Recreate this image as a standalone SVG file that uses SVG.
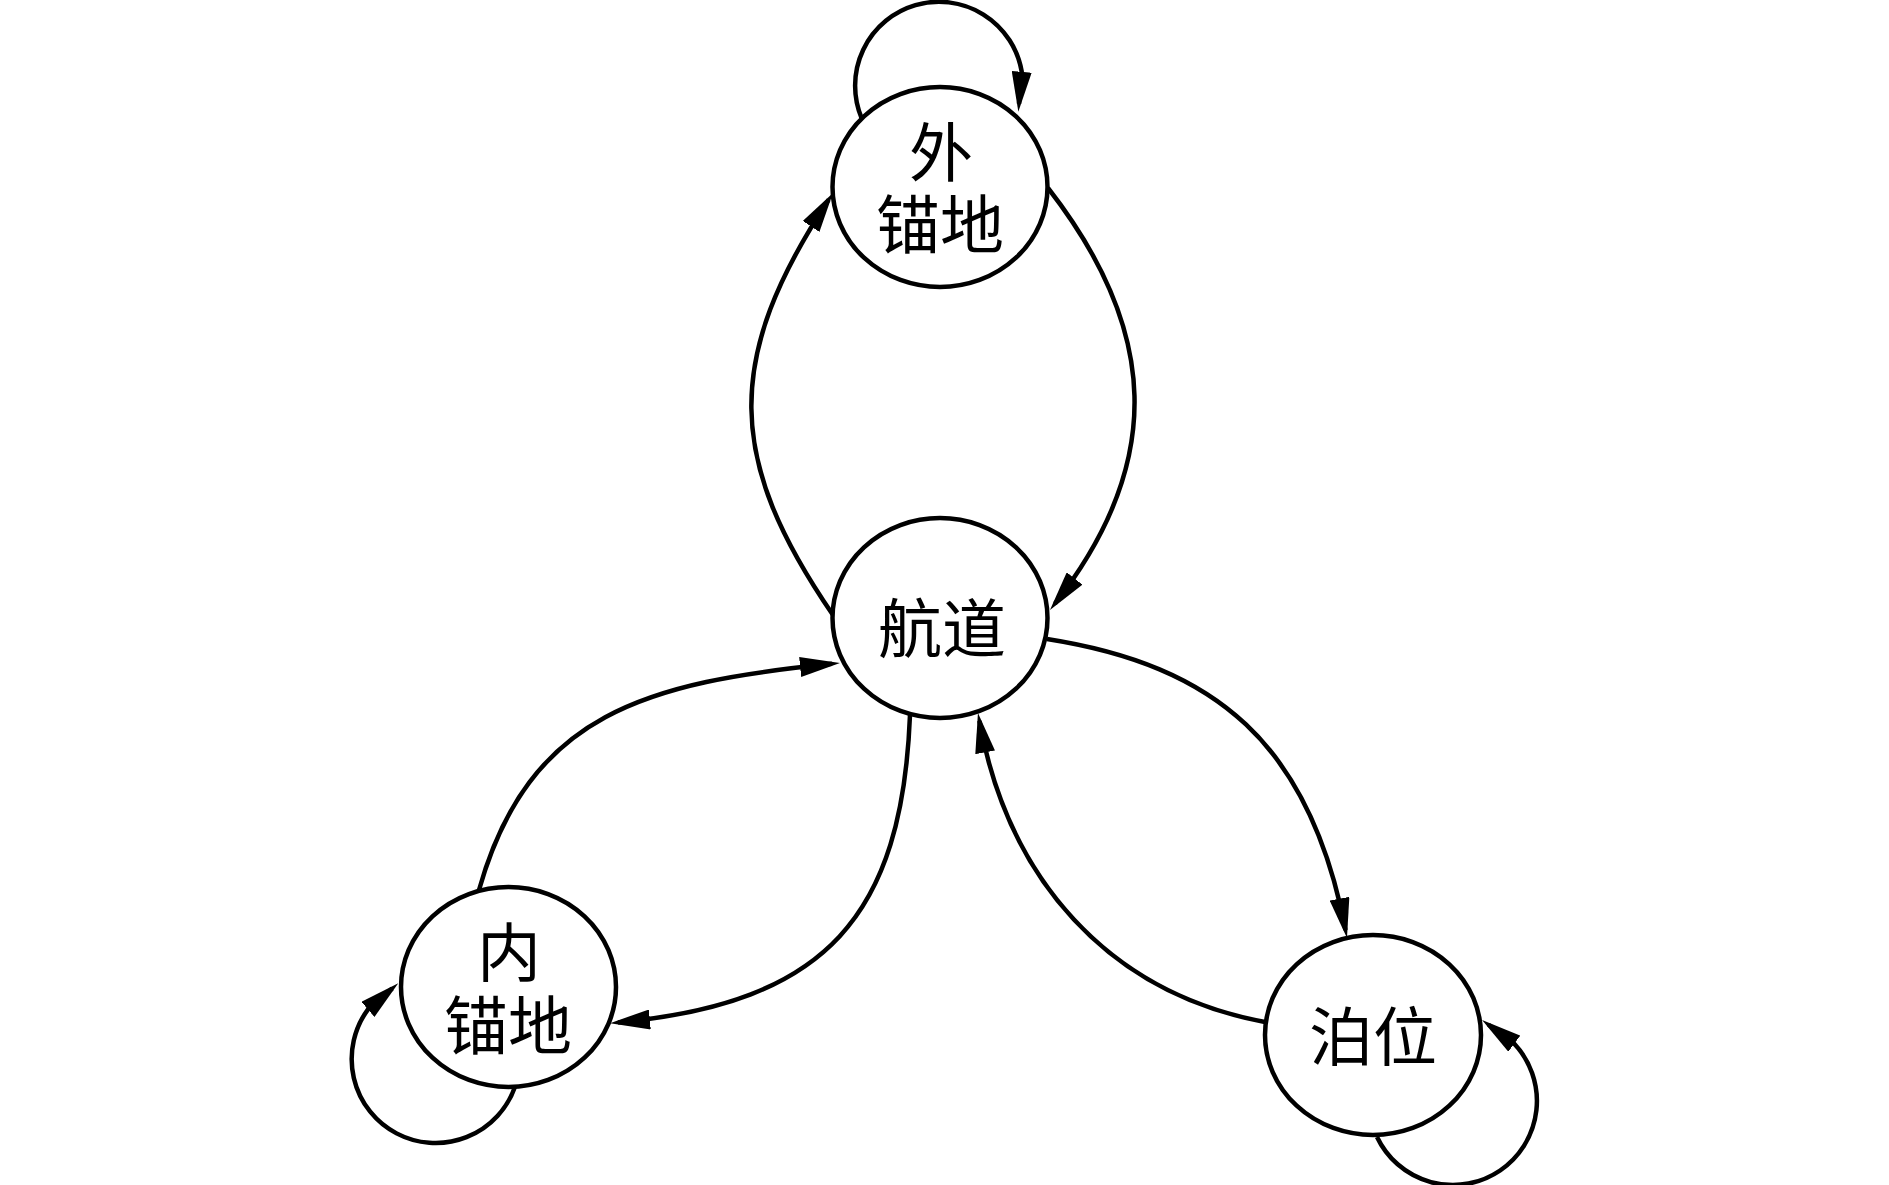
<svg xmlns="http://www.w3.org/2000/svg" width="1889" height="1185" viewBox="0 0 1889 1185">
<defs>
<style>
.node ellipse{fill:#fff;stroke:#000;stroke-width:4.5}
.node text{font-family:"Liberation Serif","Noto Sans CJK SC",serif;font-size:64px;fill:#000;text-anchor:middle}
#edges path{fill:none;stroke:#000;stroke-width:4.5;marker-end:url(#arr)}
</style>
<marker id="arr" markerUnits="userSpaceOnUse" viewBox="0 0 40 20" markerWidth="40" markerHeight="20" refX="32" refY="10" orient="auto">
<path d="M0,0 L40,10 L0,20 z" fill="#000"/>
</marker>
</defs>
<rect width="1889" height="1185" fill="#fff"/>
<g id="edges">
<path id="e-hd-wmd" d="M833,615 C725.5,458.4 724.3,358.5 828.6,199.7"/>
<path id="e-wmd-hd" d="M1048,188 C1158.5,330 1165.8,461.9 1054.9,603.7"/>
<path id="e-hd-bw" d="M1047,639 C1215,665.4 1310,743.5 1345.5,930.1"/>
<path id="e-bw-hd" d="M1265,1022 C1107.7,992.7 1008,878.3 979.4,720.9"/>
<path id="e-hd-nmd" d="M910,715 C902,915 827.4,1003 618,1022.4"/>
<path id="e-nmd-hd" d="M479,890 C529,712.4 648,682.3 832,663.8"/>
<path id="loop-wmd" d="M861.7,118.3 A83.9,83.9 0 1 1 1021.7,71.5 L1019,103.7"/>
<path id="loop-nmd" d="M515,1086.7 A84,84 0 1 1 368,1009.3 L392.2,988.5"/>
<path id="loop-bw" d="M1377,1137 A84,84 0 1 0 1514.3,1043.7 L1488.5,1024.7"/>
</g>
<g id="node-wmd" class="node">
<ellipse cx="940" cy="187" rx="107.5" ry="100"/>
<text><tspan x="941" y="176">外</tspan><tspan x="940" y="248">锚地</tspan></text>
</g>
<g id="node-hd" class="node">
<ellipse cx="940" cy="618" rx="107.5" ry="100"/>
<text x="942" y="652">航道</text>
</g>
<g id="node-nmd" class="node">
<ellipse cx="508.5" cy="987" rx="107.5" ry="100"/>
<text><tspan x="509" y="976">内</tspan><tspan x="508" y="1049">锚地</tspan></text>
</g>
<g id="node-bw" class="node">
<ellipse cx="1373" cy="1035" rx="108" ry="100"/>
<text x="1373" y="1060">泊位</text>
</g>
</svg>
